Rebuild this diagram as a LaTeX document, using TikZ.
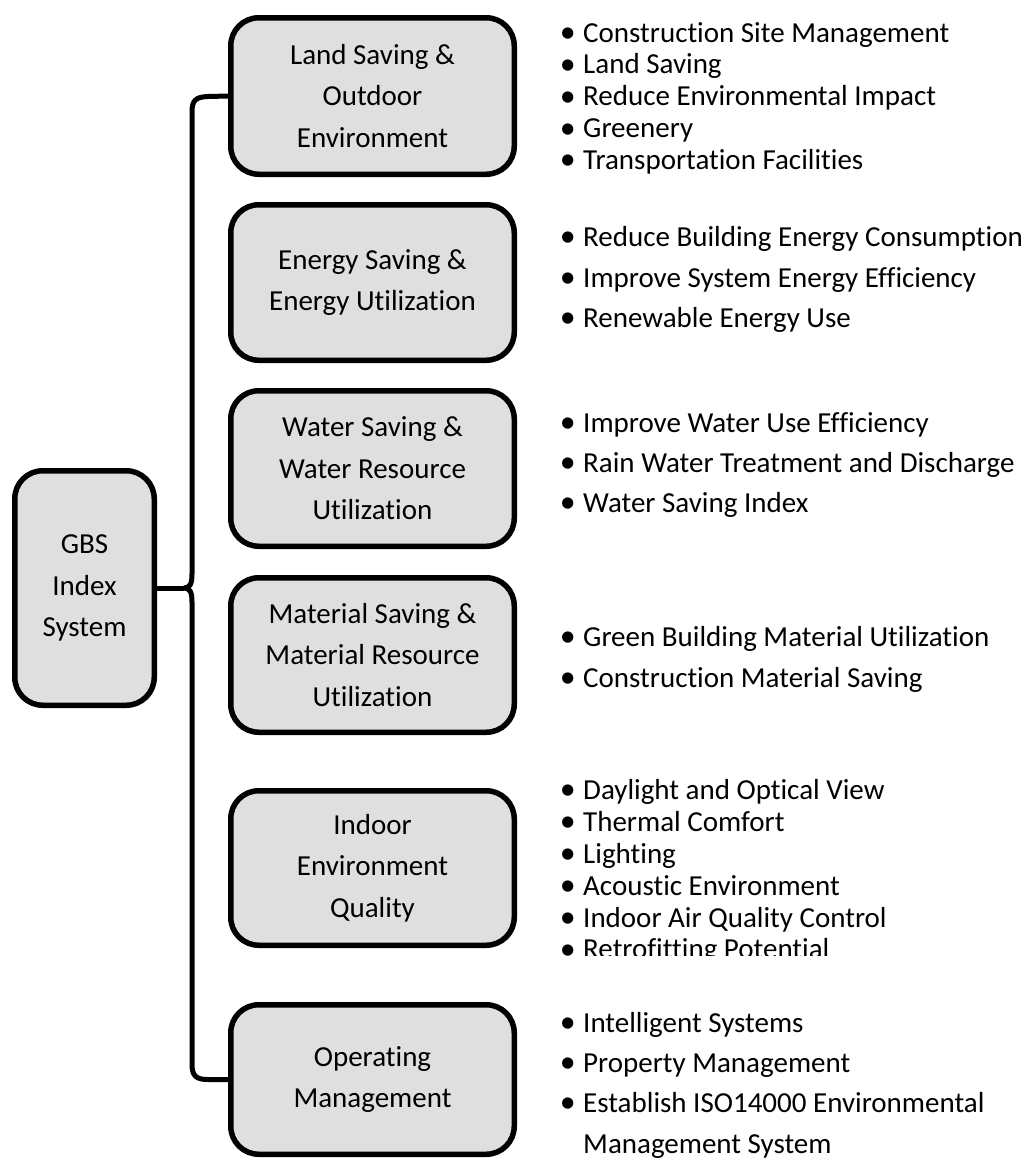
\documentclass[tikz,border=0pt]{standalone}
\usepackage{fontspec}
\setmainfont{Carlito}[Ligatures={NoCommon}]
\usetikzlibrary{shadows}
\definecolor{boxfill}{HTML}{DFDFDF}
\tikzset{
  catbox/.style={draw=black, line width=5.5pt, fill=boxfill, rounded corners=28pt,
    align=center, inner sep=0pt, minimum width=283.5pt,
    font=\fontsize{29}{41.5}\selectfont,
    drop shadow={opacity=0.22, shadow xshift=2pt, shadow yshift=-2pt}},
  conn/.style={draw=black, line width=5pt, line join=round},
  item/.style={anchor=base west, inner sep=0pt, font=\fontsize{29}{34}\selectfont}
}
\newcommand{\itm}{\llap{\smash{\raisebox{-0.9pt}{\scalebox{1.1}{•}}}\hspace{7.5pt}}}
\begin{document}
\begin{tikzpicture}[x=1pt,y=-1pt]
\useasboundingbox (0,0) rectangle (1030,1160);

% left root box
\node[catbox, minimum width=139.5pt, minimum height=234.5pt] (gbs) at (84.5,588) {GBS\\Index\\System};

% category boxes
\node[catbox, minimum height=156.5pt] (b1) at (372.5,96) {Land Saving \&\\Outdoor\\Environment};
\node[catbox, minimum height=155.5pt] (b2) at (372.5,282.5) {Energy Saving \&\\Energy Utilization};
\node[catbox, minimum height=155.5pt] (b3) at (372.5,468.5) {Water Saving \&\\Water Resource\\Utilization};
\node[catbox, minimum height=154.5pt] (b4) at (372.5,655) {Material Saving \&\\Material Resource\\Utilization};
\node[catbox, minimum height=154.5pt] (b5) at (372.5,868) {Indoor\\Environment\\Quality};
\node[catbox, minimum height=149.5pt] (b6) at (372.5,1079.5) {Operating\\Management};

% brace connector
\coordinate (cusp) at (184,588);
\draw[conn] (gbs.east) -- (cusp);
\draw[conn] (cusp) .. controls (190,588) and (192,584) .. (192,574)
  -- (192,112) .. controls (192,100) and (196,97) .. (208,96.5) -- (b1.west);
\draw[conn] (cusp) .. controls (190,588) and (192,592) .. (192,602)
  -- (192,1064) .. controls (192,1076) and (196,1079.5) .. (208,1079.5) -- (b6.west);

% lists
\node[item] (l1a) at (583,42) {\itm Construction Site Management};
\node[item] (l1b) at (583,73.75) {\itm Land Saving};
\node[item] (l1c) at (583,105.5) {\itm Reduce Environmental Impact};
\node[item] (l1d) at (583,137.25) {\itm Greenery};
\node[item] (l1e) at (583,169) {\itm Transportation Facilities};

\node[item] (l2a) at (583,246) {\itm Reduce Building Energy Consumption};
\node[item] (l2b) at (583,287) {\itm Improve System Energy Efficiency};
\node[item] (l2c) at (583,327) {\itm Renewable Energy Use};

\node[item] (l3a) at (583,432) {\itm Improve Water Use Efficiency};
\node[item] (l3b) at (583,472) {\itm Rain Water Treatment and Discharge};
\node[item] (l3c) at (583,512) {\itm Water Saving Index};

\node[item] (l4a) at (583,646) {\itm Green Building Material Utilization};
\node[item] (l4b) at (583,687) {\itm Construction Material Saving};

\begin{scope}
\clip (540,770) rectangle (1030,955);
\node[item] (l5a) at (583,799) {\itm Daylight and Optical View};
\node[item] (l5b) at (583,831) {\itm Thermal Comfort};
\node[item] (l5c) at (583,863) {\itm Lighting};
\node[item] (l5d) at (583,895) {\itm Acoustic Environment};
\node[item] (l5e) at (583,927) {\itm Indoor Air Quality Control};
\node[item] (l5f) at (583,958.5) {\itm Retrofitting Potential};
\end{scope}

\node[item] (l6a) at (583,1032) {\itm Intelligent Systems};
\node[item] (l6b) at (583,1072) {\itm Property Management};
\node[item] (l6c) at (583,1112) {\itm Establish ISO14000 Environmental};
\node[item] (l6d) at (583,1153) {Management System};
\end{tikzpicture}
\end{document}
